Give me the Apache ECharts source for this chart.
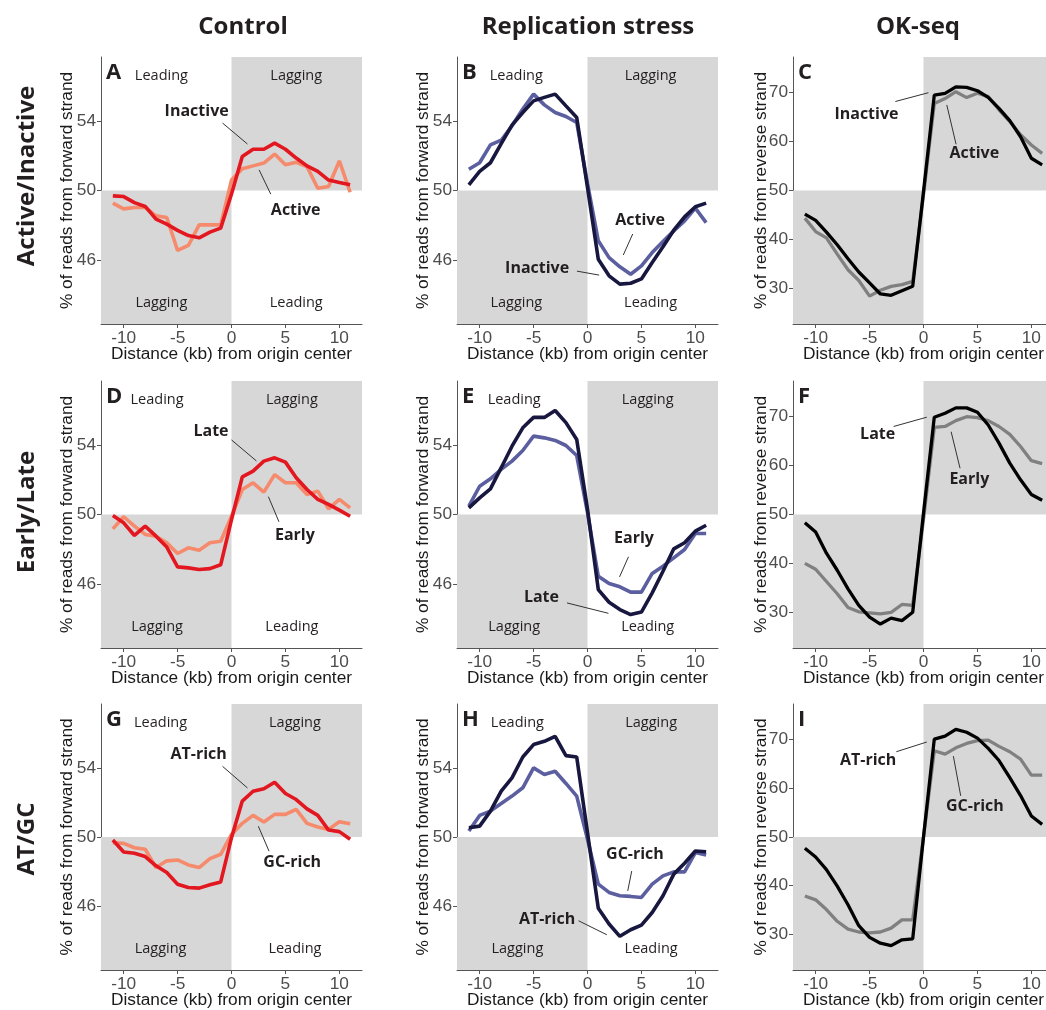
<!DOCTYPE html>
<html><head><meta charset="utf-8">
<script src="https://cdn.jsdelivr.net/npm/echarts@6/dist/echarts.min.js"></script>
<style>html,body{margin:0;padding:0;overflow:hidden;background:#fff}#c{width:1060px;height:1010px}</style>
</head><body><div id="c"></div><script>
// ---- data ----
const xKb = [-11,-10,-9,-8,-7,-6,-5,-4,-3,-2,-1,0,1,2,3,4,5,6,7,8,9,10,11];
const xTicks = [-10,-5,0,5,10];
const fwdTicks = [46,50,54];
const revTicks = [30,40,50,60,70];
const colTitles = ['Control','Replication stress','OK-seq'];
const rowTitles = ['Active/Inactive','Early/Late','AT/GC'];
const panelLetters = ['A','B','C','D','E','F','G','H','I'];
const lightNames = ['Active','Early','GC-rich'];
const darkNames = ['Inactive','Late','AT-rich'];

const ctrlActive   = [49.27,48.94,49.02,49.02,48.54,48.44,46.54,46.83,48.02,48.02,48.02,50.6,51.25,51.42,51.58,52.1,51.48,51.63,51.38,50.13,50.23,51.71,49.9];
const ctrlInactive = [49.69,49.65,49.3,49.08,48.35,48.06,47.7,47.4,47.27,47.6,47.83,49.8,51.96,52.38,52.38,52.73,52.38,51.87,51.42,51.1,50.6,50.46,50.33];
const rsActive     = [51.23,51.6,52.63,52.9,53.73,54.7,55.56,54.94,54.5,54.27,53.92,50.4,47.1,46.13,45.6,45.17,45.65,46.42,47.06,47.67,48.25,48.98,48.15];
const rsInactive   = [50.33,51.1,51.6,52.7,53.77,54.5,55.17,55.37,55.56,54.88,54.21,50.17,46.04,45.08,44.6,44.65,44.9,45.85,46.75,47.71,48.48,49.06,49.27];
const okActive     = [44.35,41.6,40.3,37.0,33.8,31.6,28.4,29.6,30.4,30.75,31.4,49.1,67.8,68.8,70.2,69.0,69.9,69.2,66.5,64.1,61.4,59.3,57.6];
const okInactive   = [45.17,43.88,41.5,38.9,36.05,33.33,31.1,28.84,28.57,29.5,30.4,49.8,69.5,69.86,71.2,71.1,70.4,69.05,66.8,64.3,61.0,56.6,55.24];

const ctrlEarly = [49.17,49.87,49.33,48.85,48.75,48.37,47.75,48.08,47.94,48.37,48.46,49.9,51.44,51.83,51.29,52.3,51.83,51.83,51.15,51.35,50.33,50.87,50.38];
const ctrlLate  = [49.94,49.52,48.79,49.33,48.75,48.12,46.98,46.92,46.83,46.88,47.1,49.7,52.17,52.5,53.08,53.27,53.02,52.12,51.44,50.87,50.58,50.25,49.9];
const rsEarly   = [50.48,51.63,52.06,52.6,53.08,53.69,54.52,54.42,54.27,53.98,53.4,50.1,46.44,46.02,45.83,45.52,45.52,46.6,47.02,47.5,47.98,48.9,48.9];
const rsLate    = [50.38,50.96,51.48,52.7,53.94,55.0,55.6,55.6,56.0,55.3,54.33,50.3,45.67,44.94,44.52,44.23,44.37,45.48,46.73,48.02,48.37,49.04,49.38];
const okEarly   = [40.0,38.8,36.3,33.8,31.0,30.1,29.9,29.7,30.0,31.6,31.4,49.0,67.8,68.0,69.2,70.0,69.8,69.2,68.0,66.4,63.9,61.0,60.4];
const okLate    = [48.3,46.4,42.1,38.6,34.8,31.4,29.0,27.6,28.8,28.3,30.0,50.3,69.9,70.7,71.8,71.8,70.9,68.3,64.6,60.5,57.1,54.1,52.9];

const ctrlGC = [49.67,49.63,49.38,49.29,48.23,48.62,48.67,48.38,48.23,48.75,49.0,50.15,50.79,51.25,50.87,51.31,51.31,51.6,50.79,50.58,50.44,50.88,50.77];
const ctrlAT = [49.83,49.13,49.06,48.87,48.33,47.94,47.27,47.08,47.04,47.23,47.4,49.96,52.08,52.65,52.79,53.17,52.52,52.17,51.63,51.25,50.4,50.31,49.87];
const rsGC   = [50.35,51.25,51.5,51.94,52.37,52.85,54.0,53.62,53.81,53.1,52.37,49.87,47.27,46.79,46.6,46.56,46.5,47.27,47.75,47.98,47.98,49.1,48.96];
const rsAT   = [50.54,50.63,51.5,52.65,53.42,54.63,55.35,55.54,55.83,54.71,54.63,50.25,45.87,44.96,44.25,44.63,44.9,45.63,46.6,47.85,48.48,49.19,49.15];
const okGC   = [37.9,37.1,35.1,32.7,31.1,30.5,30.3,30.5,31.3,33.0,33.0,50.0,67.7,67.0,68.3,69.2,69.8,69.9,68.6,67.5,66.0,62.7,62.7];
const okAT   = [47.7,45.9,43.3,39.9,36.1,31.8,29.4,28.2,27.7,28.9,29.1,50.0,70.1,70.7,72.1,71.5,70.3,68.2,65.7,62.2,58.5,54.3,52.6];

// ---- layout / style ----
const colLeft = [101, 457, 793];
const rowTop = [57, 381, 704];
const PW = 261, PH = 267;
const XMIN = -12.1, XMAX = 12.1;
const fwdRange = [42.3, 57.7];
const revRange = [22.7, 77.3];
const colColors = [
  {light:'#f58a6c', dark:'#e3171f', width:3.6},
  {light:'#5b5f9f', dark:'#17173f', width:3.6},
  {light:'#808080', dark:'#000000', width:3.3}
];
const shadeColor = '#d7d7d7';
const txtColor = '#231f20';
const axisFont = 17.3;

// annotation placement (data coords): [labelX, labelY, lineX1, lineY1, lineX2, lineY2]
const annDark = [
  [-3.23,54.56,-0.83,53.89,1.48,52.68],
  [-4.67,45.51,-0.98,45.35,1.08,45.12],
  [-5.29,65.6,-2.61,68.2,0.46,70.0],
  [-1.9,54.78,0.0,54.3,2.31,53.09],
  [-4.27,45.22,-1.9,44.9,1.94,44.3],
  [-4.25,66.46,-2.77,68.0,0.31,69.9],
  [-3.05,54.76,-0.83,54.09,1.48,52.84],
  [-3.75,45.24,-0.83,45.15,1.79,44.34],
  [-5.13,65.7,-2.52,67.5,0.31,69.5]
];
const annLight = [
  [5.95,48.85,2.56,51.19,3.64,49.79],
  [4.87,48.3,4.19,47.49,3.32,46.28],
  [4.71,57.5,2.16,67.5,3.02,59.45],
  [5.88,48.82,3.42,51.03,4.4,49.58],
  [4.31,48.63,3.8,47.56,2.97,46.4],
  [4.25,57.26,2.56,66.93,3.39,59.45],
  [5.63,48.55,2.49,50.62,3.48,49.18],
  [4.4,48.99,4.1,48.03,3.73,46.88],
  [4.77,56.3,2.77,66.6,3.45,58.45]
];
// Leading/Lagging x positions per panel (left, right)
const regionX = [[-6.5,6.0],[-6.6,5.85],null,[-6.9,5.6],[-6.8,5.58],null,[-6.58,5.88],[-6.5,5.9],null];

const panelData = [
  [ctrlActive, ctrlInactive],[rsActive, rsInactive],[okActive, okInactive],
  [ctrlEarly, ctrlLate],[rsEarly, rsLate],[okEarly, okLate],
  [ctrlGC, ctrlAT],[rsGC, rsAT],[okGC, okAT]
];

const grid = [], xAxis = [], yAxis = [], series = [], graphic = [];
for (let r = 0; r < 3; r++) {
  for (let c = 0; c < 3; c++) {
    const i = r*3 + c;
    const fwd = c < 2;
    const yr = fwd ? fwdRange : revRange;
    grid.push({left: colLeft[c], top: rowTop[r], width: PW, height: PH, containLabel: false});
    xAxis.push({
      type:'value', gridIndex:i, min:XMIN, max:XMAX,
      splitLine:{show:false},
      axisLine:{show:true, onZero:false, lineStyle:{color:'#555', width:1}},
      axisTick:{show:true, length:4, lineStyle:{color:'#555'}, customValues:xTicks},
      axisLabel:{customValues:xTicks, color:'#4d4d4d', fontSize:axisFont, fontFamily:'Liberation Sans', margin:6},
      name:'Distance (kb) from origin center', nameLocation:'middle', nameGap:22, nameMoveOverlap:false,
      nameTextStyle:{fontSize:axisFont, fontFamily:'Liberation Sans', color:'#1a1a1a'}
    });
    yAxis.push({
      type:'value', gridIndex:i, min:yr[0], max:yr[1],
      splitLine:{show:false},
      axisLine:{show:true, onZero:false, lineStyle:{color:'#555', width:1}},
      axisTick:{show:true, length:4, lineStyle:{color:'#555'}, customValues: fwd ? fwdTicks : revTicks},
      axisLabel:{customValues: fwd ? fwdTicks : revTicks, color:'#4d4d4d', fontSize:axisFont, fontFamily:'Liberation Sans', margin:5},
      name: fwd ? '% of reads from forward strand' : '% of reads from reverse strand',
      nameLocation:'middle', nameGap: fwd ? 25 : 23, nameMoveOverlap:false,
      nameTextStyle:{fontSize:axisFont, fontFamily:'Liberation Sans', color:'#1a1a1a'}
    });
    // shading
    series.push({
      type:'line', xAxisIndex:i, yAxisIndex:i, data:[[0,50]], showSymbol:false, silent:true,
      lineStyle:{opacity:0}, z:1,
      markArea:{silent:true, itemStyle:{color:shadeColor, opacity:1}, data:[
        [{coord:[0,50]},{coord:[XMAX,yr[1]]}],
        [{coord:[XMIN,yr[0]]},{coord:[0,50]}]
      ]}
    });
    const cc = colColors[c];
    const [lt, dk] = panelData[i];
    series.push({type:'line', xAxisIndex:i, yAxisIndex:i, showSymbol:false, z:3,
      data:xKb.map((x,k)=>[x, lt[k]]), lineStyle:{color:cc.light, width:cc.width}, itemStyle:{color:cc.light}});
    series.push({type:'line', xAxisIndex:i, yAxisIndex:i, showSymbol:false, z:4,
      data:xKb.map((x,k)=>[x, dk[k]]), lineStyle:{color:cc.dark, width:cc.width}, itemStyle:{color:cc.dark}});
    // annotations
    const ad = annDark[i], al = annLight[i];
    const pts = [
      {name:darkNames[r], value:[ad[0],ad[1]], label:{fontWeight:'bold', fontSize:16}},
      {name:lightNames[r], value:[al[0],al[1]], label:{fontWeight:'bold', fontSize:16}}
    ];
    if (regionX[i]) {
      const [lx, rx] = regionX[i];
      pts.push({name:'Leading', value:[lx,56.6]}, {name:'Lagging', value:[rx,56.6]},
               {name:'Lagging', value:[lx,43.5]}, {name:'Leading', value:[rx,43.5]});
    }
    series.push({
      type:'scatter', xAxisIndex:i, yAxisIndex:i, symbolSize:0, silent:true, z:5,
      itemStyle:{opacity:1},
      data:pts,
      label:{show:true, position:'inside', formatter:'{b}', color:txtColor, opacity:1, fontFamily:'Open Sans', fontSize:14.5},
      markLine:{silent:true, symbol:['none','none'], label:{show:false},
        lineStyle:{color:'#333', width:1, type:'solid', opacity:1},
        data:[
          [{coord:[ad[2],ad[3]]},{coord:[ad[4],ad[5]]}],
          [{coord:[al[2],al[3]]},{coord:[al[4],al[5]]}]
        ]}
    });
    graphic.push({type:'text', left: colLeft[c]+5, top: rowTop[r]+5,
      style:{text:panelLetters[i], font:'bold 22px "Open Sans"', fill:txtColor}});
  }
}
const colCenters = [243, 588, 918];
colTitles.forEach((t,c)=>graphic.push({type:'text', x:colCenters[c], y:27,
  style:{text:t, font:'bold 24px "Open Sans"', fill:txtColor, align:'center', verticalAlign:'middle'}}));
const rowCenters = [176, 512, 839];
rowTitles.forEach((t,r)=>graphic.push({type:'text', x:27, y:rowCenters[r], rotation:Math.PI/2,
  style:{text:t, font:'bold 24px "Open Sans"', fill:txtColor, align:'center', verticalAlign:'middle'}}));

const chart = echarts.init(document.getElementById('c'), null, {renderer:'canvas'});
chart.setOption({animation:false, backgroundColor:'#fff', grid, xAxis, yAxis, series, graphic});
</script></body></html>
